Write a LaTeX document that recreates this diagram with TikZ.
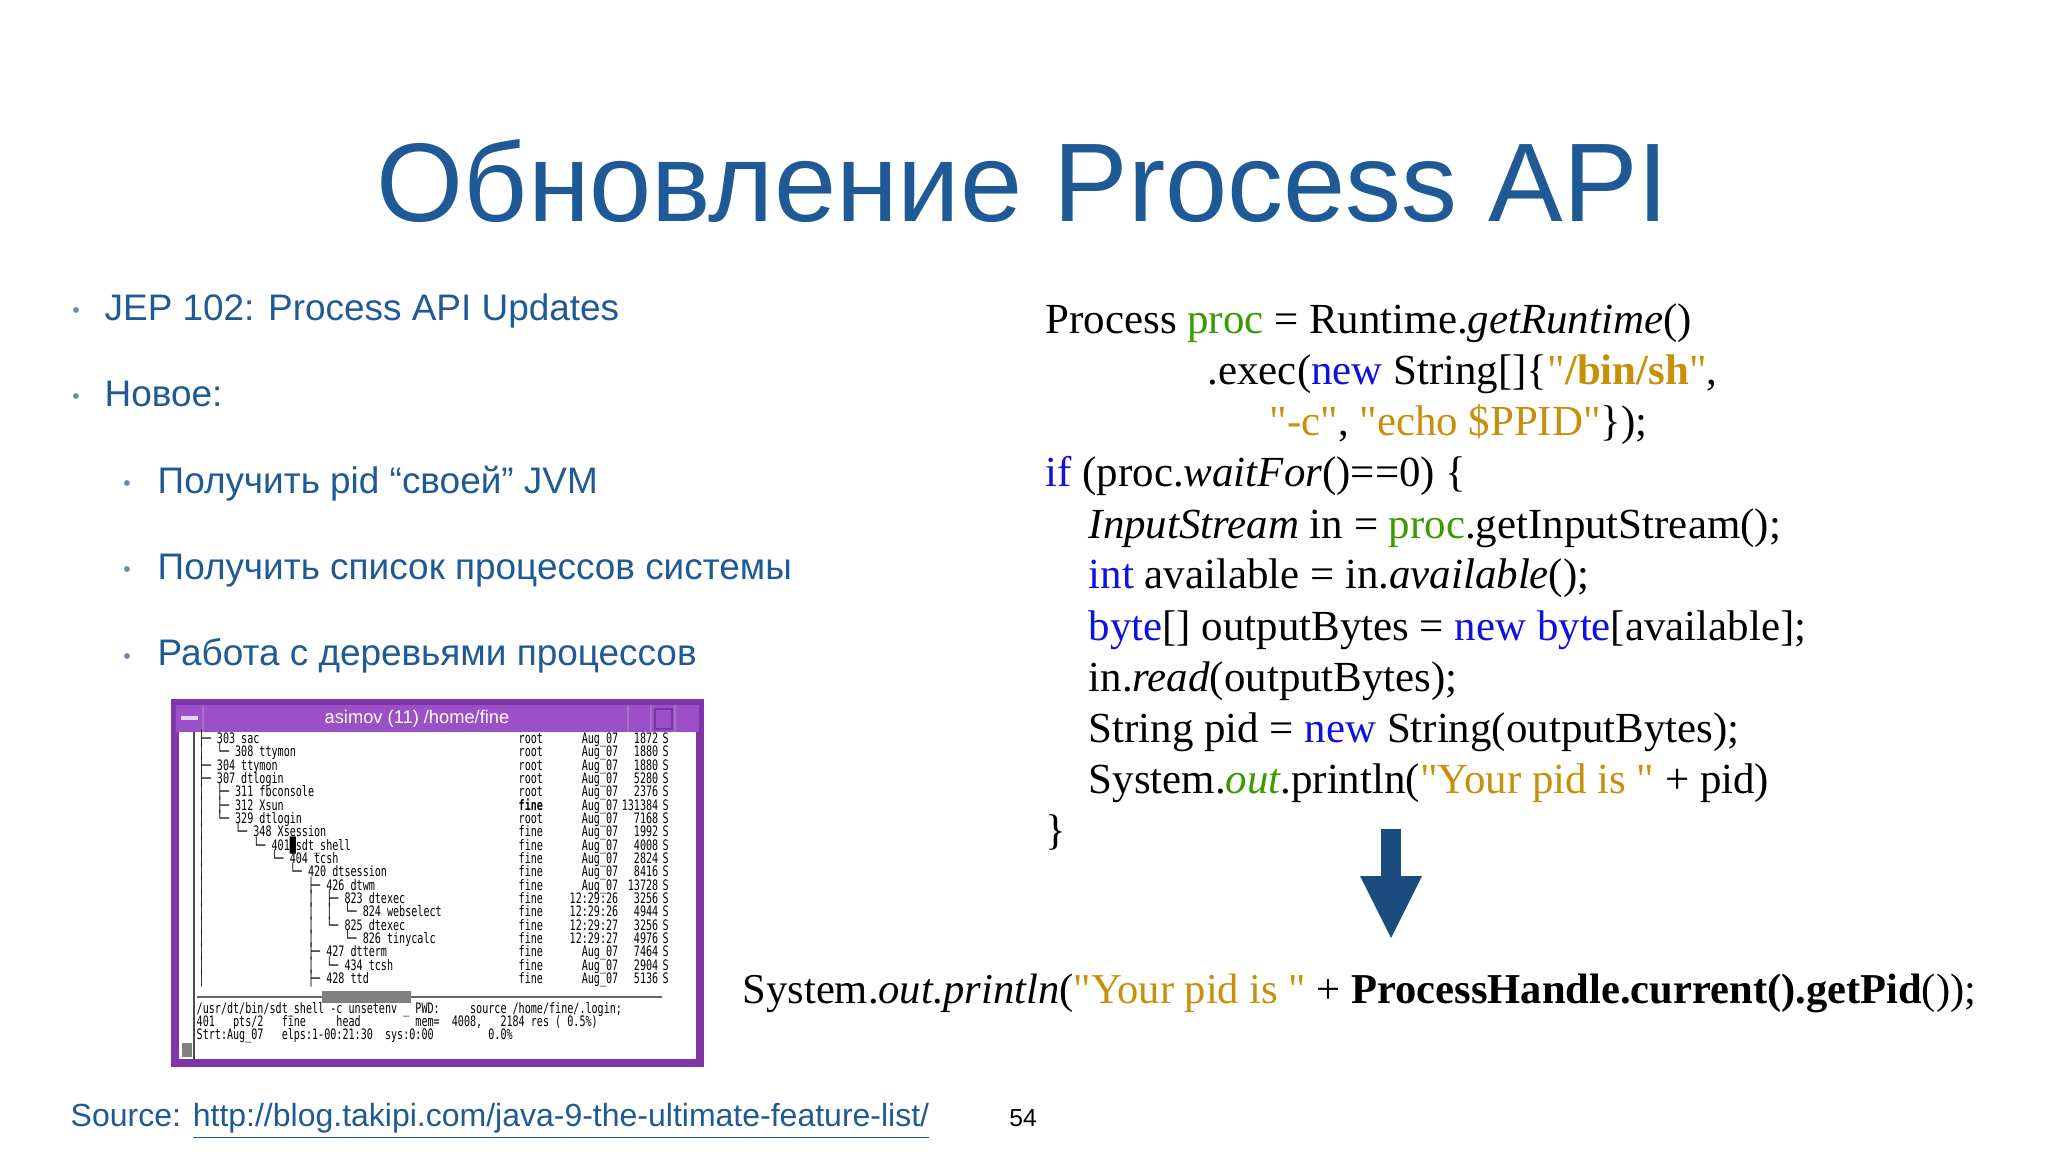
\documentclass[tikz,border=0pt]{standalone}
\usepackage{fontspec}
\setmainfont{Liberation Serif}[Ligatures=TeXOff]
\newfontfamily\hsans{Liberation Sans}
\newfontfamily\tmono{DejaVu Sans Mono}[FakeStretch=0.7]
\usetikzlibrary{calc}
\definecolor{ttl}{HTML}{1F5A96}
\definecolor{kw}{HTML}{1010E0}
\definecolor{gr}{HTML}{3A9A00}
\definecolor{st}{HTML}{C8900A}
\definecolor{pur}{HTML}{9C50C8}
\definecolor{purd}{HTML}{7E35A8}
\newcommand{\K}[1]{\textcolor{kw}{#1}}
\newcommand{\G}[1]{\textcolor{gr}{#1}}
\newcommand{\Sq}[1]{\textcolor{st}{#1}}
\begin{document}
\begin{tikzpicture}[x=0.01cm,y=-0.01cm,
  code/.style={anchor=base west,inner sep=0,font=\fontsize{12.2}{14}\selectfont},
  bul/.style={anchor=base west,inner sep=0,text=ttl,font=\hsans\fontsize{10.5}{12}\selectfont},
  dot/.style={anchor=base,inner sep=0,text=ttl!70,font=\hsans\fontsize{6}{7}\selectfont},
  tm/.style={anchor=base west,inner sep=0,font=\tmono\fontsize{4.1}{5}\selectfont},
  tr/.style={anchor=base east,inner sep=0,font=\tmono\fontsize{4.1}{5}\selectfont}]
\useasboundingbox (0,0) rectangle (2048,1152);
\fill[white] (0,0) rectangle (2048,1152);
\node[anchor=base,inner sep=0,text=ttl,font=\hsans\fontsize{31.8}{36}\selectfont] (title) at (1023,222) {Обновление Process API};
% bullets
\node[dot] (d1) at (76,318) {•};
\node[bul] (b1) at (104,321) {JEP 102: Process API Updates};
\node[dot] (d2) at (76,404) {•};
\node[bul] (b2) at (104,407) {Новое:};
\node[dot] (d3) at (127,491) {•};
\node[bul] (b3) at (157,494) {Получить pid “своей” JVM};
\node[dot] (d4) at (127,577) {•};
\node[bul] (b4) at (157,580) {Получить список процессов системы};
\node[dot] (d5) at (127,663) {•};
\node[bul] (b5) at (157,666) {Работа с деревьями процессов};
% code
\node[code] (c1) at (1045,334) {Process \G{proc} = Runtime.\textit{getRuntime}()};
\node[code] (c2) at (1207,385) {.exec(\K{new} String[]\{\Sq{"\textbf{/bin/sh}"},};
\node[code] (c3) at (1269,436) {\Sq{"-c"}, \Sq{"echo \$PPID"}\});};
\node[code] (c4) at (1045,487) {\K{if} (proc.\textit{waitFor}()==0) \{};
\node[code] (c5) at (1088,538) {\textit{InputStream} in = \G{proc}.getInputStream();};
\node[code] (c6) at (1088,589) {\K{int} available = in.\textit{available}();};
\node[code] (c7) at (1088,640) {\K{byte}[] outputBytes = \K{new} \K{byte}[available];};
\node[code] (c8) at (1088,691) {in.\textit{read}(outputBytes);};
\node[code] (c9) at (1088,742) {String pid = \K{new} String(outputBytes);};
\node[code] (c10) at (1088,793) {System.\textit{\G{out}}.println(\Sq{"Your pid is "} + pid)};
\node[code] (c11) at (1045,844) {\}};
\coordinate (atop) at (1391,829);
\coordinate (ahead) at (1391,876);
\coordinate (atip) at (1391,938);
\fill[ttl!85!black] ($(atop)+(-10,0)$) rectangle ($(ahead)+(10,0)$);
\fill[ttl!85!black] ($(ahead)+(-31,0)$) -- ($(ahead)+(31,0)$) -- (atip) -- cycle;
\node[code,font=\fontsize{12.1}{14}\selectfont] (res) at (742,1003) {System.\textit{out.println}(\Sq{"Your pid is "} + \textbf{ProcessHandle.current().getPid}());};
% source
\node[anchor=base west,inner sep=0,text=ttl,font=\hsans\fontsize{9.1}{11}\selectfont] (src) at (70,1126) {Source: \underline{http://blog.takipi.com/java-9-the-ultimate-feature-list/}};
\node[anchor=base,inner sep=0,font=\hsans\fontsize{7}{8}\selectfont] (pg) at (1023,1126) {54};
% terminal
\fill[white] (175,703) rectangle (700,1063);
\draw[purd,line width=2.5] (175,703) rectangle (700,1063);
\fill[pur] (176,705) rectangle (699,732);
\draw[purd!70,line width=0.8] (203,705) -- (203,732) (628,705) -- (628,732) (651,705) -- (651,732) (675,705) -- (675,732);
\draw[white!80!purd,line width=1.2] (181,718) -- (198,718);
\draw[purd,line width=0.8] (655,709) rectangle (672,729);
\node[anchor=center,inner sep=0,text=white,font=\hsans\fontsize{5.2}{6}\selectfont] (wt) at (417,719) {asimov (11) /home/fine};
\draw[black!70,line width=0.6] (194,732) -- (194,1060);
\draw[black!60,line width=0.8] (197,997) -- (662,997);
\fill[black!50] (322,991) rectangle (411,1003);
\fill[black!50] (182,1043) rectangle (192,1057);
\foreach \i/\t/\u/\d/\s in {
1/{├─~303~sac}/root/Aug\_07/1872,
2/{│~~└─~308~ttymon}/root/Aug\_07/1880,
3/{├─~304~ttymon}/root/Aug\_07/1880,
4/{├─~307~dtlogin}/root/Aug\_07/5280,
5/{│~~├─~311~fbconsole}/root/Aug\_07/2376,
6/{│~~├─~312~Xsun}/\textbf{fine}/Aug\_07/131384,
7/{│~~└─~329~dtlogin}/root/Aug\_07/7168,
8/{│~~~~~└─~348~Xsession}/fine/Aug\_07/1992,
9/{│~~~~~~~~└─~401█sdt\_shell}/fine/Aug\_07/4008,
10/{│~~~~~~~~~~~└─~404~tcsh}/fine/Aug\_07/2824,
11/{│~~~~~~~~~~~~~~└─~420~dtsession}/fine/Aug\_07/8416,
12/{│~~~~~~~~~~~~~~~~~├─~426~dtwm}/fine/Aug\_07/13728,
13/{│~~~~~~~~~~~~~~~~~│~~├─~823~dtexec}/fine/12:29:26/3256,
14/{│~~~~~~~~~~~~~~~~~│~~│~~└─~824~webselect}/fine/12:29:26/4944,
15/{│~~~~~~~~~~~~~~~~~│~~└─~825~dtexec}/fine/12:29:27/3256,
16/{│~~~~~~~~~~~~~~~~~│~~~~~└─~826~tinycalc}/fine/12:29:27/4976,
17/{│~~~~~~~~~~~~~~~~~├─~427~dtterm}/fine/Aug\_07/7464,
18/{│~~~~~~~~~~~~~~~~~│~~└─~434~tcsh}/fine/Aug\_07/2904,
19/{│~~~~~~~~~~~~~~~~~├─~428~ttd}/fine/Aug\_07/5136}{
  \node[tm] (r\i) at (198,{730+13.35*\i}) {\t};
  \node[tm] (u\i) at (518,{730+13.35*\i}) {\u};
  \node[tr] (dd\i) at (619,{730+13.35*\i}) {\d};
  \node[tr] (s\i) at (659,{730+13.35*\i}) {\s};
  \node[tm] (ss\i) at (662,{730+13.35*\i}) {S};
}
\node[tm] (l1) at (196,1013) {/usr/dt/bin/sdt\_shell~-c~unsetenv~\_~PWD:~~~~~source~/home/fine/.login;};
\node[tm] (l2) at (196,1026) {401~~~pts/2~~~fine~~~~~head~~~~~~~~~mem=~~4008,~~~2184~res~(~0.5\%)};
\node[tm] (l3) at (196,1039) {Strt:Aug\_07~~~elps:1-00:21:30~~sys:0:00~~~~~~~~~0.0\%};
\end{tikzpicture}
\end{document}
